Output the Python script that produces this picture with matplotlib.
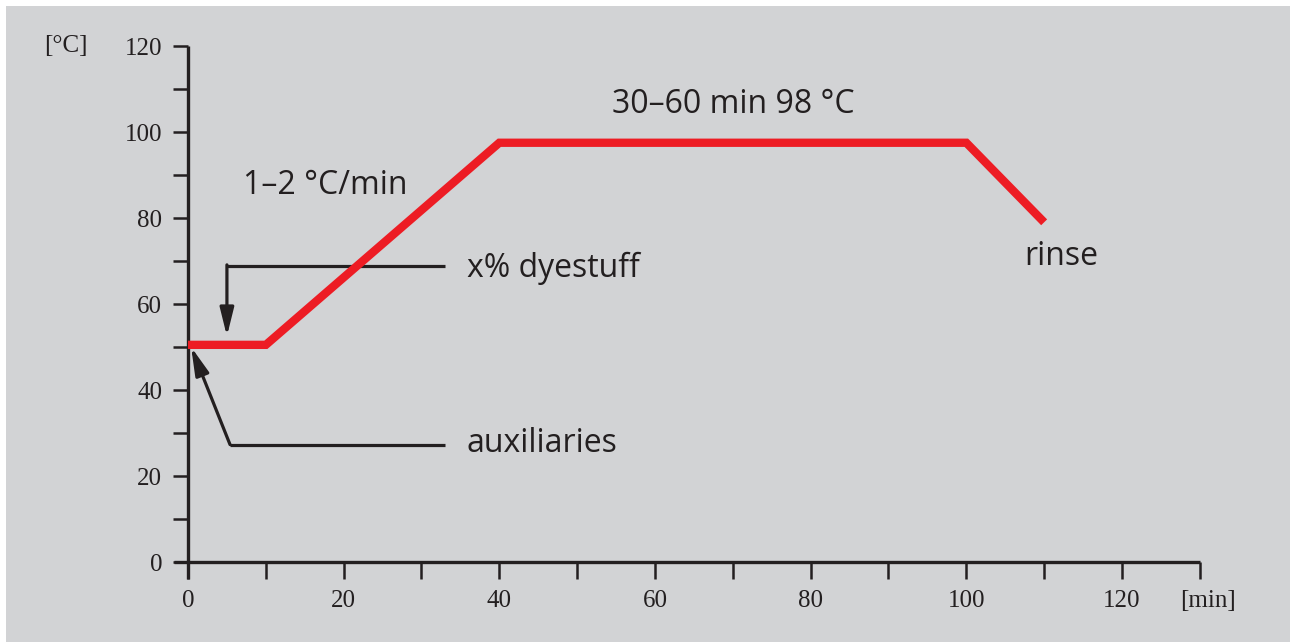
import matplotlib.pyplot as plt
from matplotlib.patches import Rectangle
from matplotlib.ticker import MultipleLocator

# temperature profile of the dyeing process
time_min = [0, 10, 40, 100, 110]
temp_c = [50.5, 50.5, 97.5, 97.5, 79]

# annotation leaders (min, °C)
dye_x = [33, 5, 5]
dye_y = [68.8, 68.8, 52.5]
aux_x = [33, 5.4, 0.4]
aux_y = [27.3, 27.3, 50]

xticks = [0, 20, 40, 60, 80, 100, 120]
yticks = [0, 20, 40, 60, 80, 100, 120]

ink = '#231f20'
red = '#ed1c24'
bg = '#d2d3d5'
serif = ['Liberation Serif', 'DejaVu Serif']
sans = ['Open Sans', 'DejaVu Sans']

fig = plt.figure(figsize=(12.91, 6.42), dpi=100, facecolor='white')
fig.patches.append(Rectangle((6 / 1291, 0), 1284 / 1291, 636 / 642,
                             transform=fig.transFigure, facecolor=bg,
                             edgecolor='none', zorder=-10))

ax = fig.add_axes([174 / 1291, 1 - 579.2 / 642, 1025.8 / 1291, 533.2 / 642])
ax.set_facecolor('none')
ax.set_xlim(-1.8, 130)
ax.set_ylim(-4, 120)

for s in ['top', 'right']:
    ax.spines[s].set_visible(False)
for s in ['left', 'bottom']:
    ax.spines[s].set_position(('data', 0))
    ax.spines[s].set_linewidth(2.4)
    ax.spines[s].set_color(ink)
    ax.spines[s].set_capstyle('butt')

ax.set_xticks(xticks)
ax.set_yticks(yticks)
ax.xaxis.set_minor_locator(MultipleLocator(10))
ax.yaxis.set_minor_locator(MultipleLocator(10))
ax.tick_params(axis='x', which='both', direction='out', length=12.5, width=1.8,
               color=ink, pad=8)
ax.tick_params(axis='y', which='both', direction='out', length=10.5, width=1.8,
               color=ink, pad=8)
ax.tick_params(axis='both', which='major', labelsize=18, labelcolor=ink)
for lab in ax.get_xticklabels() + ax.get_yticklabels():
    lab.set_family(serif)

ax.plot(time_min, temp_c, color=red, lw=6, solid_joinstyle='miter',
        solid_capstyle='butt', zorder=3)

# leaders with arrow heads
head = '-|>,head_length=1.7,head_width=0.42'
ax.plot(dye_x[:2], dye_y[:2], color=ink, lw=2.3, solid_capstyle='butt', zorder=2)
ax.annotate('', xy=(dye_x[2], dye_y[2]), xytext=(dye_x[1], dye_y[1] + 0.3),
            arrowprops=dict(arrowstyle=head, color=ink, lw=2.3,
                            shrinkA=0, shrinkB=0), zorder=2)
ax.plot(aux_x[:2], aux_y[:2], color=ink, lw=2.3, solid_capstyle='butt', zorder=2)
ax.annotate('', xy=(aux_x[2], aux_y[2]), xytext=(aux_x[1], aux_y[1]),
            arrowprops=dict(arrowstyle=head, color=ink, lw=2.3,
                            shrinkA=0, shrinkB=0), zorder=4)

txt = dict(family=sans, fontsize=23, color=ink)
ax.text(35.8, 68.3, 'x% dyestuff', ha='left', va='center', **txt)
ax.text(35.8, 27.5, 'auxiliaries', ha='left', va='center', **txt)
ax.text(7.1, 87.6, '1–2 °C/min', ha='left', va='center', **txt)
ax.text(70, 106.4, '30–60 min 98 °C', ha='center', va='center', **txt)
ax.text(107.5, 71, 'rinse', ha='left', va='center', **txt)

# axis units
ax.text(131, -9, '[min]', ha='center', va='center', family=serif,
        fontsize=18, color=ink)
ax.text(-15.7, 120, '[°C]', ha='center', va='center', family=serif,
        fontsize=18, color=ink)

fig.savefig('out.png', dpi=100, facecolor=fig.get_facecolor())
